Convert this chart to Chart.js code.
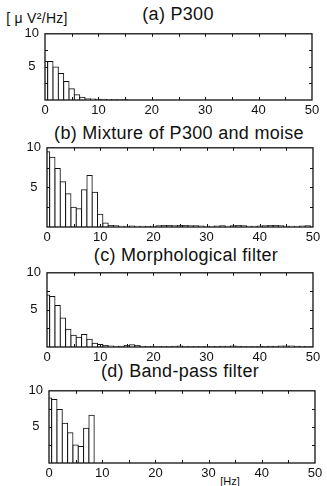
<!DOCTYPE html>
<html>
<head>
<meta charset="utf-8">
<script src="https://cdn.jsdelivr.net/npm/chart.js@4.4.1/dist/chart.umd.min.js"></script>
<style>
  body { margin: 0; background: #fff; width: 327px; height: 486px; position: relative; overflow: hidden; }
  .box { position: absolute; left: 0; }
  .txt { position: absolute; font-family: "Liberation Sans", Arial, sans-serif; color: #111; line-height: 1; white-space: nowrap; transform: translate(-50%, -50%); }
</style>
</head>
<body>

<div class="txt" style="left:37px; top:18px; font-size:14px; letter-spacing:0.3px;">[ μ V²/Hz]</div>
<div class="txt" style="left:178px; top:14px; font-size:18px; letter-spacing:0.3px;">(a) P300</div>
<div class="txt" style="left:179px; top:133px; font-size:18px; letter-spacing:0.3px;">(b) Mixture of P300 and moise</div>
<div class="txt" style="left:186px; top:255px; font-size:18px; letter-spacing:0.3px;">(c) Morphological filter</div>
<div class="txt" style="left:180px; top:371px; font-size:18px; letter-spacing:0.3px;">(d) Band-pass filter</div>
<div class="txt" style="left:230px; top:481px; font-size:11px;">[Hz]</div>

<div class="box" id="boxA"><canvas id="chartA"></canvas></div>
<div class="box" id="boxB"><canvas id="chartB"></canvas></div>
<div class="box" id="boxC"><canvas id="chartC"></canvas></div>
<div class="box" id="boxD"><canvas id="chartD"></canvas></div>

<script>
// power per 1 Hz bin, bins 0..50 Hz
const p300 = [
  5.8, 5.8, 5.0, 4.0, 2.8, 1.7, 0.8, 0.4, 0.2, 0.15,
  0.1, 0.1, 0.08, 0.05, 0.05, 0.03, 0, 0, 0, 0,
  0, 0, 0, 0, 0, 0, 0, 0, 0, 0,
  0, 0, 0, 0, 0, 0, 0, 0, 0, 0,
  0, 0, 0, 0, 0, 0, 0, 0, 0, 0,
  0
];
const mixture = [
  9.5, 8.8, 7.4, 5.7, 4.2, 2.5, 2.3, 4.7, 6.5, 4.4,
  1.6, 0.5, 0.2, 0.15, 0.1, 0.1, 0.12, 0.1, 0.1, 0.08,
  0.1, 0.15, 0.2, 0.2, 0.15, 0.2, 0.2, 0.15, 0.15, 0.12,
  0.1, 0.1, 0.12, 0.15, 0.1, 0.15, 0.2, 0.15, 0.1, 0.1,
  0.12, 0.15, 0.2, 0.2, 0.15, 0.1, 0.1, 0.1, 0.12, 0.15,
  0.1
];
const morphological = [
  7.0, 6.8, 5.6, 3.9, 2.4, 1.6, 1.3, 1.7, 1.05, 0.5,
  0.35, 0.2, 0.15, 0.1, 0.1, 0.2, 0.3, 0.2, 0.1, 0.08,
  0.05, 0.05, 0.08, 0.05, 0.1, 0.15, 0.08, 0.05, 0.05, 0.05,
  0.05, 0.05, 0.08, 0.1, 0.1, 0.15, 0.1, 0.05, 0.05, 0.05,
  0.05, 0.08, 0.1, 0.1, 0.12, 0.15, 0.15, 0.1, 0.08, 0.05,
  0.05
];
const bandpass = [
  9.0, 8.8, 7.4, 5.5, 4.2, 2.5, 2.3, 4.8, 6.6, 0,
  0, 0, 0, 0, 0, 0, 0, 0, 0, 0,
  0, 0, 0, 0, 0, 0, 0, 0, 0, 0,
  0, 0, 0, 0, 0, 0, 0, 0, 0, 0,
  0, 0, 0, 0, 0, 0, 0, 0, 0, 0,
  0
];

const xTickMarks = [5, 10, 15, 20, 25, 30, 35, 40, 45];
const yTickMarks = [2.5, 5, 7.5];

// plot area of each panel, in page pixels
const panels = [
  { box: 'boxA', canvas: 'chartA', values: p300,          left: 45, right: 312, top: 29,  bottom: 100 },
  { box: 'boxB', canvas: 'chartB', values: mixture,       left: 47, right: 313, top: 143, bottom: 227 },
  { box: 'boxC', canvas: 'chartC', values: morphological, left: 47, right: 313, top: 268, bottom: 347 },
  { box: 'boxD', canvas: 'chartD', values: bandpass,      left: 49, right: 315, top: 386, bottom: 463 }
];

const padTop = 6;
const axisH = 22;
const W = 327;

// box around the plot with small inward ticks
const framePlugin = {
  id: 'frame',
  afterDraw(chart) {
    const { ctx, chartArea: a, scales: { x, y } } = chart;
    ctx.save();
    ctx.strokeStyle = '#111';
    ctx.lineWidth = 1.3;
    ctx.strokeRect(a.left, a.top, a.right - a.left, a.bottom - a.top);
    ctx.lineWidth = 1;
    ctx.beginPath();
    xTickMarks.forEach(v => {
      const px = Math.round(x.getPixelForValue(v)) + 0.5;
      ctx.moveTo(px, a.bottom); ctx.lineTo(px, a.bottom - 3);
      ctx.moveTo(px, a.top); ctx.lineTo(px, a.top + 3);
    });
    yTickMarks.forEach(v => {
      const py = Math.round(y.getPixelForValue(v)) + 0.5;
      ctx.moveTo(a.left, py); ctx.lineTo(a.left + 3, py);
      ctx.moveTo(a.right, py); ctx.lineTo(a.right - 3, py);
    });
    ctx.stroke();
    ctx.restore();
  }
};

const tickFont = { family: 'Liberation Sans', size: 13 };

panels.forEach(p => {
  const h = (p.bottom - p.top) + padTop + axisH;
  const box = document.getElementById(p.box);
  box.style.top = (p.top - padTop) + 'px';
  const cv = document.getElementById(p.canvas);
  cv.width = W;
  cv.height = h;

  new Chart(cv, {
    type: 'bar',
    data: {
      datasets: [{
        data: p.values.map((v, i) => ({ x: i, y: v })),
        backgroundColor: '#fff',
        borderColor: '#111',
        borderWidth: 1,
        inflateAmount: 0.5,
        barPercentage: 1,
        categoryPercentage: 1
      }]
    },
    options: {
      responsive: false,
      animation: false,
      devicePixelRatio: 1,
      layout: { padding: { top: padTop, right: W - p.right, left: 0, bottom: 0 } },
      plugins: { legend: { display: false }, tooltip: { enabled: false } },
      scales: {
        x: {
          type: 'linear',
          min: 0,
          max: 50,
          offset: false,
          grid: { display: false, drawTicks: false, offset: false },
          border: { display: false },
          ticks: { stepSize: 10, autoSkip: false, maxRotation: 0, padding: 3, color: '#111', font: tickFont },
          afterFit: (scale) => { scale.height = axisH; }
        },
        y: {
          min: 0,
          max: 10,
          grid: { display: false, tickLength: 3 },
          border: { display: false },
          ticks: {
            stepSize: 5,
            crossAlign: 'center',
            color: '#111',
            font: tickFont,
            callback: (v) => v === 0 ? '' : v
          },
          afterFit: (scale) => { scale.width = p.left; }
        }
      }
    },
    plugins: [framePlugin]
  });
});
</script>
</body>
</html>
